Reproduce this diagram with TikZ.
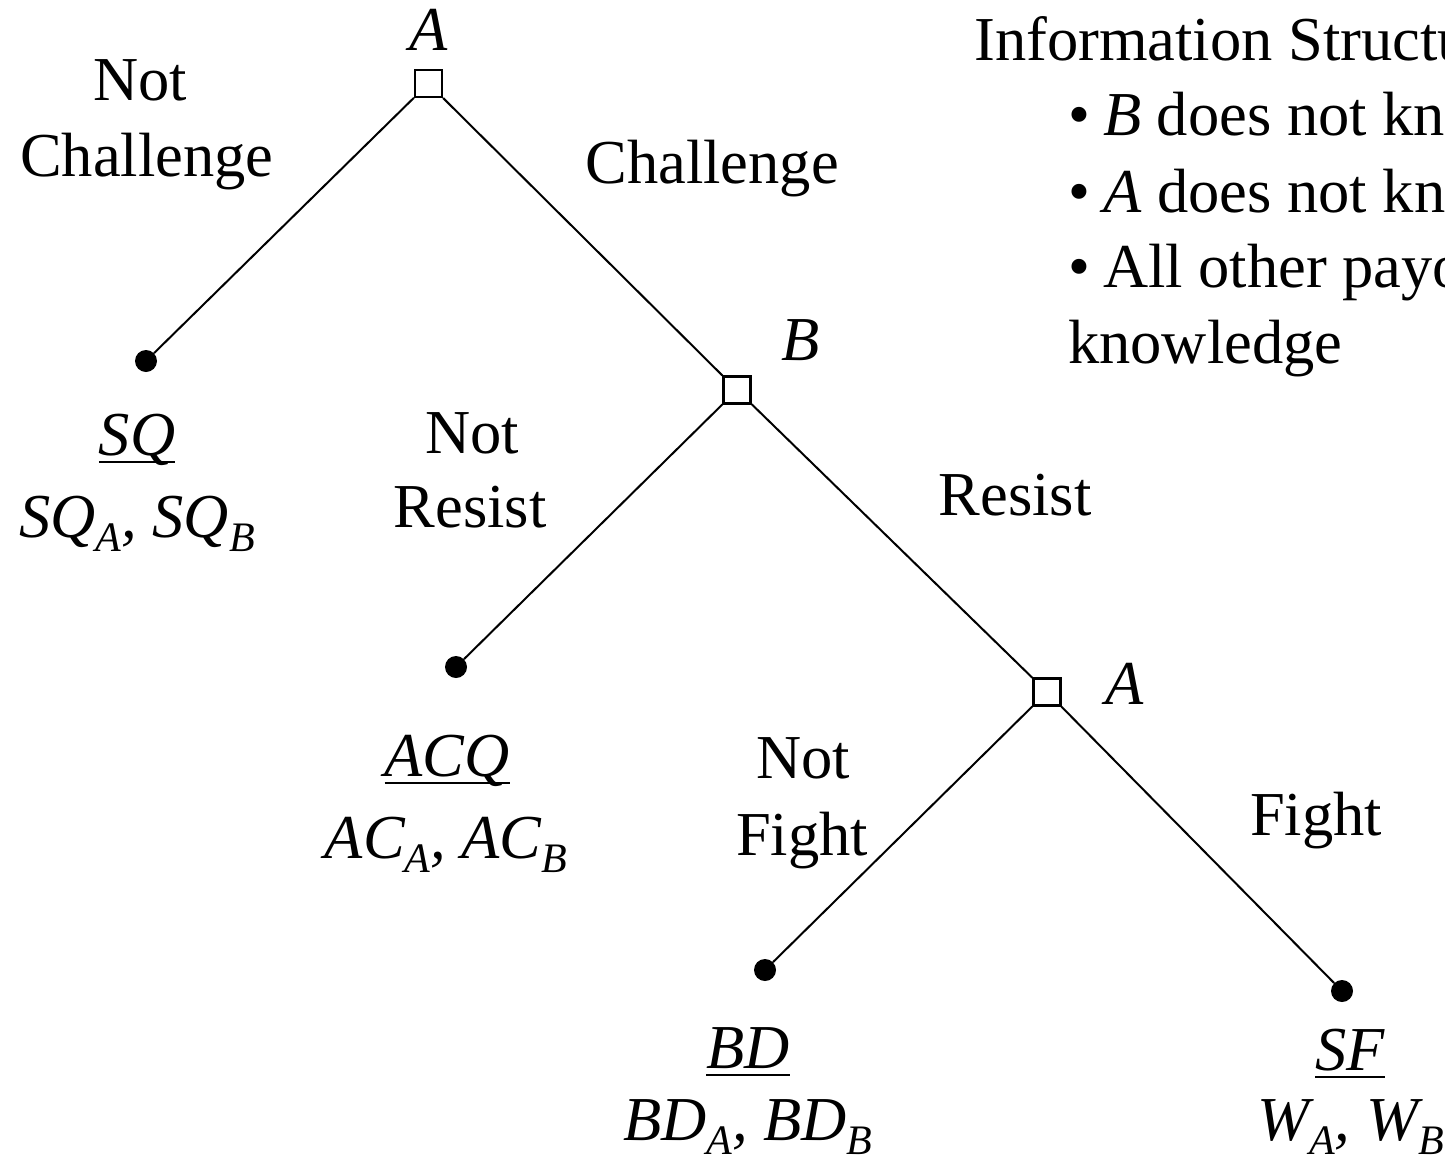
\documentclass[tikz,border=0pt]{standalone}
\usepackage{fontspec}
\setmainfont{Liberation Serif}
\newcommand\lowsub[1]{\raisebox{-14pt}{\fontsize{42}{42}\selectfont\itshape #1}}
\newcommand\thickul[1]{\setbox0\hbox{#1}\rlap{\rule[-8pt]{\wd0}{2.4pt}}\box0}
\newcommand\itembullet{\textbullet\hspace{13pt}}
\tikzset{
  lbl/.style={anchor=base, inner sep=0pt, font=\fontsize{62.5}{75}\selectfont},
  lblw/.style={anchor=base west, inner sep=0pt, font=\fontsize{62.5}{75}\selectfont},
  decision/.style={draw, line width=2.3pt, minimum size=27pt, inner sep=0pt, fill=white},
  terminal/.style={circle, fill=black, minimum size=22pt, inner sep=0pt},
  edge/.style={line width=2pt}
}
\begin{document}
\begin{tikzpicture}[x=1pt,y=-1pt]
\useasboundingbox (0,0) rectangle (1445,1162);
\clip (0,0) rectangle (1445,1162);

% decision nodes and outcomes
\node[decision] (a1) at (428.5,83.5) {};
\node[decision] (b1) at (737,390) {};
\node[decision] (a2) at (1047,692) {};
\node[terminal] (sq) at (146,361) {};
\node[terminal] (acq) at (456,667) {};
\node[terminal] (bd) at (765,970) {};
\node[terminal] (sf) at (1342,991) {};

% branches
\draw[edge] (a1) -- (sq);
\draw[edge] (a1) -- (b1);
\draw[edge] (b1) -- (acq);
\draw[edge] (b1) -- (a2);
\draw[edge] (a2) -- (bd);
\draw[edge] (a2) -- (sf);

% player labels
\node[lbl] (pa1) at (429,50) {\itshape A};
\node[lbl] (pb1) at (801,360) {\itshape B};
\node[lbl] (pa2) at (1125,704) {\itshape A};

% action labels
\node[lbl] (nc1) at (140,100) {Not};
\node[lbl] (nc2) at (147,176) {Challenge};
\node[lbl] (ch) at (712,183) {Challenge};
\node[lbl] (nr1) at (472,453) {Not};
\node[lbl] (nr2) at (470,527) {Resist};
\node[lbl] (rs) at (1015,515) {Resist};
\node[lbl] (nf1) at (803,778) {Not};
\node[lbl] (nf2) at (802,855) {Fight};
\node[lbl] (fi) at (1316,835) {Fight};

% outcomes and payoffs
\node[lbl] (osq) at (137,455) {\thickul{\itshape SQ}};
\node[lbl] (psq) at (137,537) {\itshape SQ\lowsub{A}, SQ\lowsub{B}};
\node[lbl] (oacq) at (447,776) {\thickul{\itshape ACQ}};
\node[lbl] (pacq) at (446,858) {\itshape AC\lowsub{A}, AC\lowsub{B}};
\node[lbl] (obd) at (748,1068) {\thickul{\itshape BD}};
\node[lbl] (pbd) at (748,1140) {\itshape BD\lowsub{A}, BD\lowsub{B}};
\node[lbl] (osf) at (1350,1070) {\thickul{\itshape SF}};
\node[lblw] (psf) at (1257,1140) {\itshape W\lowsub{A}, W\lowsub{B}};

% information structure
\node[lblw] (inf) at (974,60) {Information Structure};
\node[lblw] (i1) at (1068,135) {\itembullet\textit{B} does not know \textit{A}'s payoffs};
\node[lblw] (i2) at (1068,212) {\itembullet\textit{A} does not know \textit{B}'s payoffs};
\node[lblw] (i3) at (1068,287) {\itembullet All other payoffs are common};
\node[lblw] (i4) at (1068,363) {knowledge};
\end{tikzpicture}
\end{document}
